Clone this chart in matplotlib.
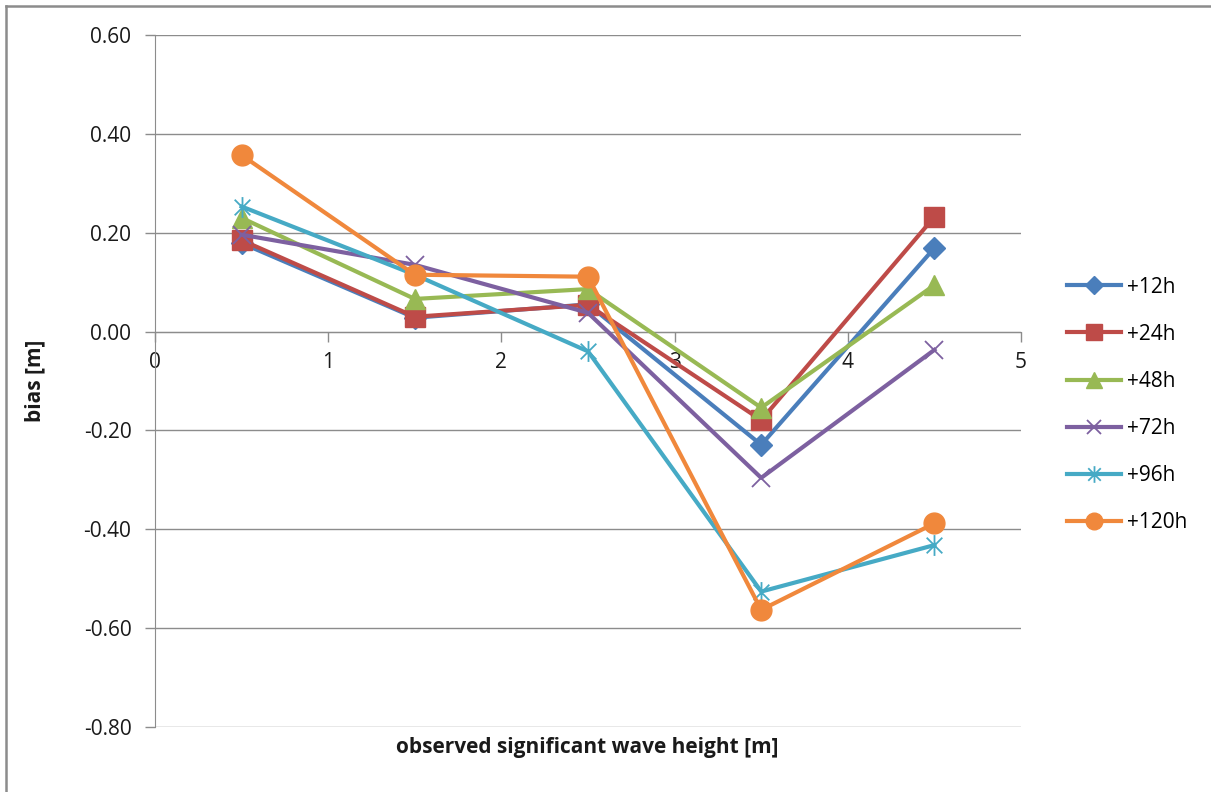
import matplotlib
matplotlib.use("Agg")
import matplotlib.pyplot as plt
from matplotlib.path import Path
from matplotlib.lines import Line2D

plt.rcParams['font.family'] = ['Open Sans', 'DejaVu Sans']
plt.rcParams['axes.unicode_minus'] = False

x_values = [0.5, 1.5, 2.5, 3.5, 4.5]
series_names = ["+12h", "+24h", "+48h", "+72h", "+96h", "+120h"]
bias_12h = [0.179, 0.028, 0.055, -0.229, 0.169]
bias_24h = [0.185, 0.030, 0.054, -0.179, 0.232]
bias_48h = [0.230, 0.066, 0.086, -0.154, 0.094]
bias_72h = [0.196, 0.135, 0.038, -0.296, -0.037]
bias_96h = [0.253, 0.115, -0.040, -0.526, -0.432]
bias_120h = [0.357, 0.115, 0.111, -0.563, -0.388]
y_ticks = [-0.8, -0.6, -0.4, -0.2, 0.0, 0.2, 0.4, 0.6]
x_ticks = [0, 1, 2, 3, 4, 5]

colors = ["#4A7EBB", "#BE4B48", "#98B954", "#7D60A0", "#46AAC5", "#F0883C"]

star = Path([(0, -1), (0, 1), (-0.75, -0.75), (0.75, 0.75), (-0.75, 0.75), (0.75, -0.75)],
            [Path.MOVETO, Path.LINETO, Path.MOVETO, Path.LINETO, Path.MOVETO, Path.LINETO])

styles = [
    dict(marker='D', markersize=11),
    dict(marker='s', markersize=14),
    dict(marker='^', markersize=14),
    dict(marker='x', markersize=13, markeredgewidth=1.3),
    dict(marker=star, markersize=15, markeredgewidth=1.3),
    dict(marker='o', markersize=15),
]

fig = plt.figure(figsize=(12.11, 7.92), dpi=100)
ax = fig.add_axes([155/1211, 1-727/792, (1021-155)/1211, (727-35)/792])

data = [bias_12h, bias_24h, bias_48h, bias_72h, bias_96h, bias_120h]
for name, vals, c, st in zip(series_names, data, colors, styles):
    ax.plot(x_values, vals, color=c, lw=3.0, label=name, zorder=3,
            markerfacecolor=c, markeredgecolor=c, clip_on=False, **st)

ax.set_xlim(0, 5)
ax.set_ylim(-0.8, 0.6)
ax.set_yticks(y_ticks)
ax.set_yticklabels([f"{v:.2f}" for v in y_ticks])
ax.set_xticks(x_ticks)
ax.set_xticklabels([str(v) for v in x_ticks])

ax.grid(axis='y', color='#8C8C8C', lw=1.0, zorder=0)
ax.set_axisbelow(True)
for s in ['top', 'right']:
    ax.spines[s].set_visible(False)
ax.spines['bottom'].set_position(('data', 0))
ax.spines['bottom'].set_color('#8C8C8C')
ax.spines['left'].set_color('#8C8C8C')
ax.tick_params(axis='both', colors='#8C8C8C', labelcolor='#1a1a1a', labelsize=15, length=7, width=1)
ax.tick_params(axis='y', pad=10)
ax.tick_params(axis='x', pad=8)

fig.text(587/1211, 1-748/792, "observed significant wave height [m]", ha='center', va='center',
         fontsize=15, fontweight='bold', color='#1a1a1a')
fig.text(35/1211, 1-381/792, "bias [m]", ha='center', va='center', rotation=90,
         fontsize=15, fontweight='bold', color='#1a1a1a')

leg = fig.legend(loc='upper left', bbox_to_anchor=(1048/1211, 1-258/792), frameon=False,
                 fontsize=15, handlelength=2.6, labelspacing=1.25, handletextpad=0.3,
                 markerscale=0.8)

fig.lines.append(Line2D([6/1211, 6/1211], [0, 1-6/792], transform=fig.transFigure,
                        color='#8C8C8C', lw=1.8))
fig.lines.append(Line2D([6/1211, 1], [1-6/792, 1-6/792], transform=fig.transFigure,
                        color='#8C8C8C', lw=1.8))

fig.savefig("out.png", dpi=100)
